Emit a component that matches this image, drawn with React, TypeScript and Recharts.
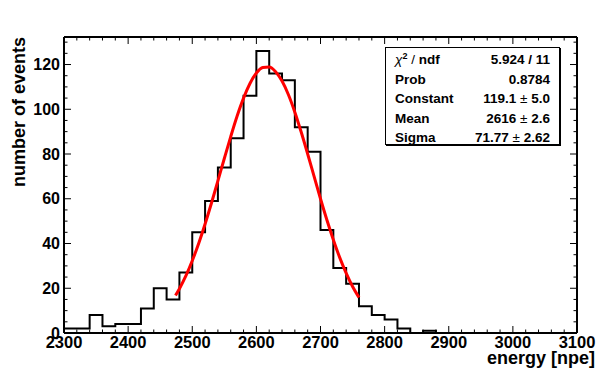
import { ComposedChart, Line, XAxis, YAxis } from "recharts";

// histogram: 40 bins of 20 npe from 2300 to 3100
const BIN_START = 2300;
const BIN_WIDTH = 20;
const counts = [
  2, 2, 8, 3, 4, 4, 11, 20, 15, 27, 45, 59, 74, 87, 106, 126, 116, 113, 92, 81,
  46, 29, 22, 12, 8, 6, 2, 0, 1, 0, 0, 0, 0, 0, 0, 0, 0, 0, 0, 0,
];

// gaussian fit curve
const fitX = [
  2474, 2480, 2490, 2500, 2510, 2520, 2530, 2540, 2550, 2560, 2570, 2580, 2590,
  2600, 2610, 2620, 2630, 2640, 2650, 2660, 2670, 2680, 2690, 2700, 2710, 2720,
  2730, 2740, 2750, 2760,
];
const fitY = [
  16.8, 19.8, 25.5, 32.3, 40.0, 48.7, 58.1, 68.0, 78.0, 87.8, 97.0, 105.0, 111.5,
  116.2, 118.7, 118.9, 116.8, 112.6, 106.5, 98.7, 89.7, 80.0, 70.0, 60.0, 50.5,
  41.7, 33.7, 26.8, 20.8, 15.9,
];

const xTicks = Array.from({ length: 41 }, (_, i) => 2300 + i * 20);
const yTicks = Array.from({ length: 27 }, (_, i) => i * 5);
const Y_MAX = 132.3;

const statRows: [string, string, string?][] = [
  ["ndf", "5.924 / 11"],
  ["Prob", "0.8784"],
  ["Constant", "119.1", "5.0"],
  ["Mean", "2616", "2.6"],
  ["Sigma", "71.77", "2.62"],
];

const histData = [
  ...counts.map((c, i) => ({ x: BIN_START + i * BIN_WIDTH, y: c })),
  { x: BIN_START + counts.length * BIN_WIDTH, y: counts[counts.length - 1] },
];
const fitData = fitX.map((x, i) => ({ x, y: fitY[i] }));

const FONT = '"Liberation Sans", Arial, Helvetica, sans-serif';

const BottomTick = (props: any) => {
  const { x, y, payload } = props;
  const major = payload.value % 100 === 0;
  return (
    <g>
      <line x1={x} x2={x} y1={y} y2={y - (major ? 7 : 3.5)} stroke="#000" strokeWidth={1} />
      {major && (
        <text x={x} y={y + 15} textAnchor="middle" fontFamily={FONT} fontWeight="bold" fontSize={16.5} fill="#000">
          {payload.value}
        </text>
      )}
    </g>
  );
};

const TopTick = (props: any) => {
  const { x, y, payload } = props;
  const major = payload.value % 100 === 0;
  return <line x1={x} x2={x} y1={y} y2={y + (major ? 7 : 3.5)} stroke="#000" strokeWidth={1} />;
};

const LeftTick = (props: any) => {
  const { x, y, payload } = props;
  const major = payload.value % 20 === 0;
  return (
    <g>
      <line x1={x} x2={x + (major ? 7 : 3.5)} y1={y} y2={y} stroke="#000" strokeWidth={1} />
      {major && (
        <text x={x - 4} y={y + 5.7} textAnchor="end" fontFamily={FONT} fontWeight="bold" fontSize={16} fill="#000">
          {payload.value}
        </text>
      )}
    </g>
  );
};

const RightTick = (props: any) => {
  const { x, y, payload } = props;
  const major = payload.value % 20 === 0;
  return <line x1={x} x2={x - (major ? 7 : 3.5)} y1={y} y2={y} stroke="#000" strokeWidth={1} />;
};

export default function App() {
  return (
    <div style={{ position: "absolute", left: 0, top: 0, width: 598, height: 370, background: "#fff" }}>
      <ComposedChart width={598} height={370} data={histData} margin={{ top: 36, right: 20, bottom: 36, left: 63 }}>
        <XAxis
          xAxisId="b"
          type="number"
          dataKey="x"
          domain={[2300, 3100]}
          allowDataOverflow
          ticks={xTicks}
          interval={0}
          height={1}
          tickSize={0}
          tickMargin={0}
          tick={BottomTick}
          axisLine={{ stroke: "#000", strokeWidth: 2 }}
        />
        <XAxis
          xAxisId="t"
          orientation="top"
          type="number"
          dataKey="x"
          domain={[2300, 3100]}
          allowDataOverflow
          ticks={xTicks}
          interval={0}
          height={1}
          tickSize={0}
          tickMargin={0}
          tick={TopTick}
          axisLine={{ stroke: "#000", strokeWidth: 2 }}
        />
        <YAxis
          yAxisId="l"
          type="number"
          domain={[0, Y_MAX]}
          allowDataOverflow
          ticks={yTicks}
          interval={0}
          width={1}
          tickSize={0}
          tickMargin={0}
          tick={LeftTick}
          axisLine={{ stroke: "#000", strokeWidth: 2 }}
        />
        <YAxis
          yAxisId="r"
          orientation="right"
          type="number"
          domain={[0, Y_MAX]}
          allowDataOverflow
          ticks={yTicks}
          interval={0}
          width={1}
          tickSize={0}
          tickMargin={0}
          tick={RightTick}
          axisLine={{ stroke: "#000", strokeWidth: 2 }}
        />
        <Line
          xAxisId="b"
          yAxisId="l"
          data={histData}
          dataKey="y"
          type="stepAfter"
          stroke="#000"
          strokeWidth={2}
          dot={false}
          isAnimationActive={false}
        />
        <Line
          xAxisId="b"
          yAxisId="l"
          data={fitData}
          dataKey="y"
          type="monotone"
          stroke="#ff0000"
          strokeWidth={3}
          dot={false}
          isAnimationActive={false}
        />
      </ComposedChart>

      <svg width={598} height={370} style={{ position: "absolute", left: 0, top: 0, pointerEvents: "none" }}>
        <text
          transform="translate(25,37) rotate(-90)"
          textAnchor="end"
          fontFamily={FONT}
          fontWeight="bold"
          fontSize={18}
          fill="#000"
        >
          number of events
        </text>
        <text x={595} y={363.5} textAnchor="end" fontFamily={FONT} fontWeight="bold" fontSize={18} fill="#000">
          energy [npe]
        </text>
      </svg>

      <div
        style={{
          position: "absolute",
          left: 385,
          top: 47,
          width: 175,
          height: 98,
          border: "1px solid #000",
          boxShadow: "1px 1px 0 #000",
          background: "#fff",
          fontFamily: FONT,
          fontSize: 13.5,
          fontWeight: "bold",
          boxSizing: "border-box",
          padding: "2px 9px 0 9px",
        }}
      >
        {statRows.map(([name, val, err]) => (
          <div key={name} style={{ display: "flex", justifyContent: "space-between", height: 19.6, lineHeight: "19.6px" }}>
            <span>
              {name === "ndf" ? (
                <>
                  <span style={{ fontWeight: "normal", fontStyle: "italic" }}>χ</span>
                  <sup style={{ fontSize: 9, lineHeight: 0 }}>2</sup>
                  <span style={{ fontWeight: "normal" }}> / </span>ndf
                </>
              ) : (
                name
              )}
            </span>
            <span>
              {val}
              {err && (
                <>
                  <span style={{ fontWeight: "normal" }}> ± </span>
                  {err}
                </>
              )}
            </span>
          </div>
        ))}
      </div>
    </div>
  );
}
